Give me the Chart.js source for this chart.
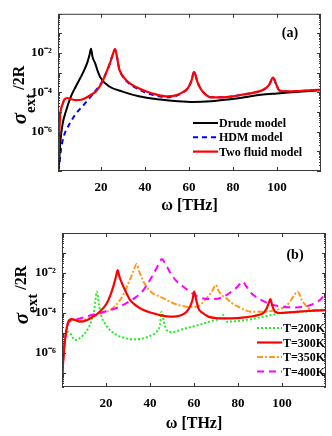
<!DOCTYPE html>
<html>
<head>
<meta charset="utf-8">
<script src="https://cdn.jsdelivr.net/npm/chart.js@4.4.1/dist/chart.umd.min.js"></script>
<style>
  html, body { margin: 0; padding: 0; background: #fff; }
  canvas { display: block; }
</style>
</head>
<body>
<canvas id="chartA" width="332" height="218"></canvas>
<canvas id="chartB" width="332" height="218"></canvas>
<script>
// axis ticks
const xTicks = [20, 40, 60, 80, 100];
const yTickVals = [1e-6, 1e-4, 1e-2];
const yTickLabels = ['10⁻⁶', '10⁻⁴', '10⁻²'];

// panel (a)
const drudeX = [0.5, 1, 1.5, 2.6, 4.1, 6.4, 8.6, 11.7, 13.9, 14.8, 15.5, 16.2, 17.4, 18.5, 20, 23.8, 29.8, 37.3, 47, 55, 62, 70, 77.6, 85, 92.7, 100, 110, 120];
const drudeY = [1e-8, 2.5e-8, 2.5e-7, 2.5e-6, 1.1e-5, 6.3e-5, 2.0e-4, 9.3e-4, 3.5e-3, 7.9e-3, 1.66e-2, 6.3e-3, 3.0e-3, 1.26e-3, 5.2e-4, 2.0e-4, 1.1e-4, 6.3e-5, 4.3e-5, 3.5e-5, 3.2e-5, 3.5e-5, 4.3e-5, 5.6e-5, 7.6e-5, 8.9e-5, 1.07e-4, 1.32e-4];

const hdmX = [0.5, 1, 1.5, 2.6, 3.5, 4.8, 6, 7.9, 10, 11.7, 14, 16.2, 18, 20, 22, 24, 25.3, 26.4, 27.3, 28.3, 29.8, 31.4, 34, 37.4, 41, 45, 50, 54, 57, 59.4, 61, 62.4, 63.8, 65.5, 67.5, 70, 75, 80, 85, 90, 94, 96.5, 98.2, 99.7, 101, 105, 110, 115, 120];
const hdmY = [1e-8, 1.6e-8, 6.3e-8, 3.5e-7, 7.9e-7, 1.6e-6, 2.8e-6, 6.3e-6, 1.26e-5, 2.0e-5, 4.0e-5, 7.9e-5, 1.4e-4, 2.8e-4, 7.9e-4, 2.8e-3, 7.9e-3, 1.58e-2, 6.3e-3, 1.58e-3, 6.8e-4, 4.0e-4, 2.2e-4, 1.4e-4, 9.3e-5, 6.8e-5, 5.6e-5, 6.6e-5, 9.5e-5, 1.58e-4, 3.5e-4, 1.12e-3, 3.5e-4, 1.4e-4, 7.9e-5, 5.6e-5, 5.6e-5, 6.3e-5, 7.9e-5, 1.0e-4, 1.4e-4, 2.5e-4, 5.6e-4, 2.5e-4, 1.26e-4, 1.12e-4, 1.17e-4, 1.26e-4, 1.4e-4];

const twoFluidX = [0.5, 0.8, 1.4, 2.6, 3.5, 4.8, 6.5, 8.6, 11, 13, 15.5, 17.7, 20, 22, 24, 25.3, 26.4, 27.3, 28.3, 29.8, 31.4, 34, 37.4, 41, 45, 50, 54, 57, 59.4, 61, 62.4, 63.8, 65.5, 67.5, 70, 75, 80, 85, 90, 94, 96.5, 98.2, 99.7, 101, 105, 110, 115, 120];
const twoFluidY = [3.2e-8, 1.1e-7, 5.0e-6, 2.5e-5, 4.5e-5, 5.2e-5, 4.5e-5, 4.0e-5, 4.2e-5, 5.2e-5, 7.6e-5, 1.12e-4, 2.5e-4, 7.9e-4, 2.8e-3, 7.9e-3, 1.58e-2, 6.3e-3, 1.58e-3, 7.1e-4, 4.3e-4, 2.5e-4, 1.58e-4, 1.07e-4, 7.9e-5, 6.3e-5, 7.1e-5, 1.0e-4, 1.58e-4, 3.5e-4, 1.12e-3, 3.5e-4, 1.4e-4, 7.9e-5, 5.6e-5, 5.6e-5, 6.3e-5, 7.9e-5, 1.0e-4, 1.4e-4, 2.5e-4, 5.6e-4, 2.5e-4, 1.26e-4, 1.12e-4, 1.17e-4, 1.26e-4, 1.4e-4];

// panel (b)
const t200X = [0, 0.3, 0.9, 2.1, 3.6, 5.9, 7.5, 9.7, 12, 13.5, 14.8, 15.8, 16.8, 18, 20, 21.8, 25, 29.4, 33, 37, 40, 43, 44.5, 45.3, 46.2, 47.6, 50, 55, 62, 68, 71.8, 73.3, 74.9, 80, 87.7, 95, 99.9, 105, 110, 115, 120];
const t200Y = [2e-8, 1.6e-7, 2.1e-6, 1.17e-5, 1.0e-5, 4.5e-6, 5.0e-6, 7.9e-6, 1.8e-5, 4.5e-5, 1.8e-4, 1.17e-3, 2.5e-4, 6.6e-5, 2.5e-5, 1.4e-5, 7.9e-6, 5.4e-6, 4.8e-6, 5.4e-6, 7.1e-6, 1.17e-5, 2.5e-5, 1.17e-4, 4.0e-5, 1.4e-5, 1.12e-5, 1.58e-5, 2.5e-5, 4.0e-5, 5.4e-5, 7.9e-5, 3.7e-5, 4.0e-5, 5.4e-5, 7.9e-5, 1.0e-4, 1.07e-4, 1.17e-4, 1.26e-4, 1.4e-4];

const t300X = [0, 0.5, 1.4, 2.9, 4.4, 6, 8.2, 11, 14.2, 17, 20.3, 22, 23.3, 24.5, 25.3, 26, 27.9, 29.5, 30.9, 34, 37, 41, 44.5, 49, 52, 54.4, 56.5, 58.2, 59.3, 60.1, 61, 62, 64, 66.5, 70, 77, 83, 89.2, 91.5, 93, 94, 94.7, 95.5, 96.8, 99, 103, 107.4, 112, 120];
const t300Y = [3.2e-8, 3.2e-7, 4.5e-6, 3.7e-5, 5.0e-5, 4.5e-5, 3.7e-5, 4.2e-5, 6.6e-5, 1.12e-4, 3.0e-4, 7.9e-4, 2.1e-3, 6.3e-3, 1.41e-2, 7.1e-3, 2.1e-3, 8.9e-4, 4.5e-4, 2.2e-4, 1.4e-4, 1.0e-4, 7.9e-5, 6.6e-5, 6.8e-5, 7.9e-5, 1.12e-4, 2.1e-4, 4.5e-4, 1.17e-3, 4.5e-4, 1.7e-4, 1.0e-4, 6.6e-5, 5.6e-5, 5.4e-5, 6.0e-5, 7.9e-5, 1.0e-4, 1.7e-4, 3.2e-4, 5.0e-4, 2.5e-4, 1.17e-4, 1.0e-4, 1.07e-4, 1.17e-4, 1.26e-4, 1.4e-4];

const t350X = [0, 0.5, 1.4, 2.9, 5.1, 8.2, 11, 14.2, 18, 21.8, 24, 26.4, 28, 29.4, 31, 32.5, 33.9, 35, 36.5, 38.5, 41, 44.5, 49, 53, 56, 59, 62, 65, 67, 68.5, 69.9, 71, 72.5, 74.8, 77, 80, 86, 92.3, 97, 101.4, 103.5, 105.1, 107.1, 109, 112, 115, 120];
const t350Y = [2.5e-8, 4.0e-7, 5.0e-6, 3.5e-5, 4.5e-5, 4.2e-5, 5.0e-5, 6.6e-5, 1.0e-4, 1.4e-4, 2.2e-4, 4.5e-4, 8.9e-4, 2.0e-3, 5.0e-3, 1.26e-2, 2.8e-2, 1.26e-2, 5.0e-3, 2.0e-3, 1.0e-3, 6.6e-4, 3.7e-4, 2.5e-4, 2.1e-4, 2.0e-4, 2.2e-4, 4.5e-4, 7.9e-4, 1.41e-3, 2.5e-3, 1.41e-3, 7.9e-4, 5.4e-4, 3.2e-4, 2.1e-4, 1.17e-4, 1.17e-4, 1.4e-4, 2.1e-4, 3.5e-4, 6.6e-4, 1.17e-3, 4.5e-4, 1.7e-4, 1.4e-4, 1.4e-4];

const t400X = [0, 0.5, 1.4, 2.9, 5, 8.2, 12, 17.3, 22, 26.4, 30, 33.9, 37, 40, 42.5, 44.5, 45.3, 46.8, 49, 52, 55.9, 59, 61.8, 65, 69.5, 73, 77, 80, 82, 84, 86, 89, 92, 96, 99.9, 105, 110.5, 114, 118, 120];
const t400Y = [2.5e-8, 4.0e-7, 5.0e-6, 3.2e-5, 4.5e-5, 5.4e-5, 7.1e-5, 1.0e-4, 1.4e-4, 2.1e-4, 3.5e-4, 6.6e-4, 1.41e-3, 4.5e-3, 1.41e-2, 3.5e-2, 5.0e-2, 3.2e-2, 1.12e-2, 4.0e-3, 1.78e-3, 1.0e-3, 6.6e-4, 5.2e-4, 5.0e-4, 6.3e-4, 1.17e-3, 2.2e-3, 3.7e-3, 2.0e-3, 1.0e-3, 5.6e-4, 3.7e-4, 2.5e-4, 2.1e-4, 1.9e-4, 2.1e-4, 2.8e-4, 5.4e-4, 1.17e-3];

const serif = '"Liberation Serif", "Times New Roman", serif';

function pts(xs, ys) {
    return xs.map((x, i) => ({ x: x, y: ys[i] }));
}

// box round the plot, inward ticks (MATLAB style), labels, legend
const framePlugin = {
    id: 'frame',
    afterDatasetsDraw(chart, args, opts) {
        const ctx = chart.ctx;
        const a = chart.chartArea;
        const xs = chart.scales.x, ys = chart.scales.y;
        ctx.save();
        ctx.strokeStyle = '#3a3a3a';
        ctx.lineWidth = 1;
        ctx.strokeRect(a.left + 0.5, a.top + 0.5, a.right - a.left - 1, a.bottom - a.top - 1);
        ctx.beginPath();
        xTicks.forEach(v => {
            const px = Math.round(xs.getPixelForValue(v)) + 0.5;
            ctx.moveTo(px, a.bottom); ctx.lineTo(px, a.bottom - 4);
            ctx.moveTo(px, a.top); ctx.lineTo(px, a.top + 4);
        });
        for (let e = -8; e <= 0; e++) {
            for (let k = 1; k <= 9; k++) {
                const v = k * Math.pow(10, e);
                if (v < ys.min || v > ys.max) continue;
                const py = Math.round(ys.getPixelForValue(v)) + 0.5;
                const len = k === 1 ? 4 : 2;
                ctx.moveTo(a.left, py); ctx.lineTo(a.left + len, py);
                ctx.moveTo(a.right, py); ctx.lineTo(a.right - len, py);
            }
        }
        ctx.stroke();
        ctx.restore();
    },
    afterDraw(chart, args, opts) {
        const ctx = chart.ctx;
        ctx.save();
        // y title: sigma_ext /2R
        const parts = [
            { t: 'σ', f: 'italic bold 21px ' + serif, dy: 0 },
            { t: 'ext', f: 'bold 15px ' + serif, dy: 9 },
            { t: ' /2R', f: 'bold 16px ' + serif, dy: -2 }
        ];
        let total = 0;
        parts.forEach(p => { ctx.font = p.f; p.w = ctx.measureText(p.t).width; total += p.w; });
        ctx.translate(opts.titleX, opts.titleY);
        ctx.rotate(-Math.PI / 2);
        ctx.fillStyle = '#000';
        ctx.textBaseline = 'alphabetic';
        ctx.textAlign = 'left';
        let cx = -total / 2;
        parts.forEach(p => { ctx.font = p.f; ctx.fillText(p.t, cx, p.dy); cx += p.w; });
        ctx.restore();

        ctx.save();
        ctx.fillStyle = '#000';
        ctx.font = 'bold 14px ' + serif;
        ctx.textAlign = 'center';
        ctx.textBaseline = 'middle';
        ctx.fillText(opts.tag, opts.tagX, opts.tagY);

        // legend
        ctx.font = 'bold 12px ' + serif;
        ctx.textAlign = 'left';
        chart.data.datasets.forEach((ds, i) => {
            const y = opts.legY + i * opts.legStep;
            ctx.strokeStyle = ds.borderColor;
            ctx.lineWidth = ds.borderWidth;
            ctx.setLineDash(ds.borderDash || []);
            ctx.beginPath();
            ctx.moveTo(opts.legX, y);
            ctx.lineTo(opts.legX + 25, y);
            ctx.stroke();
            ctx.fillText(ds.label, opts.legX + 26, y + 1);
        });
        ctx.restore();
    }
};

function makeChart(id, datasets, o) {
    return new Chart(document.getElementById(id), {
        type: 'line',
        data: { datasets: datasets },
        options: {
            responsive: false,
            animation: false,
            layout: { padding: { left: 0, right: o.padRight, top: o.padTop, bottom: 0 } },
            elements: { point: { radius: 0 }, line: { cubicInterpolationMode: 'monotone' } },
            plugins: {
                legend: { display: false },
                tooltip: { enabled: false },
                frame: o.frame
            },
            scales: {
                x: {
                    type: 'linear',
                    min: o.xMin,
                    max: 120,
                    grid: { display: false, drawTicks: false },
                    border: { display: false },
                    afterBuildTicks: s => { s.ticks = xTicks.map(v => ({ value: v })); },
                    afterFit: s => { s.height = o.xHeight; },
                    ticks: {
                        color: '#000',
                        padding: 9,
                        maxRotation: 0,
                        font: { family: serif, size: 13, weight: 'bold' }
                    },
                    title: {
                        display: true,
                        text: 'ω [THz]',
                        color: '#000',
                        padding: { top: 0, bottom: 3 },
                        font: { family: serif, size: 16, weight: 'bold' }
                    }
                },
                y: {
                    type: 'logarithmic',
                    min: o.yMin,
                    max: 1,
                    grid: { display: false, drawTicks: false },
                    border: { display: false },
                    afterBuildTicks: s => { s.ticks = yTickVals.map(v => ({ value: v })); },
                    afterFit: s => { s.width = o.yWidth; },
                    ticks: {
                        color: '#000',
                        padding: 6,
                        font: { family: serif, size: 13, weight: 'bold' },
                        callback: function(value) {
                            const i = yTickVals.findIndex(v => Math.abs(v - value) / v < 1e-6);
                            return i >= 0 ? yTickLabels[i] : '';
                        }
                    }
                }
            }
        },
        plugins: [framePlugin]
    });
}

// lower "order" is drawn on top: keep the red curves above the rest
makeChart('chartA', [
    { label: 'Drude model', data: pts(drudeX, drudeY), borderColor: '#000000', borderWidth: 2, order: 1 },
    { label: 'HDM model', data: pts(hdmX, hdmY), borderColor: '#0000ff', borderWidth: 2, borderDash: [5, 4], order: 2 },
    { label: 'Two fluid model', data: pts(twoFluidX, twoFluidY), borderColor: '#ff0000', borderWidth: 2.2, order: 0 }
], {
    xMin: 0.5, yMin: 1e-8, padRight: 11, padTop: 11, xHeight: 47, yWidth: 58,
    frame: { titleX: 26, titleY: 95, tag: '(a)', tagX: 290, tagY: 33, legX: 193, legY: 123, legStep: 14.3 }
});

makeChart('chartB', [
    { label: 'T=200K', data: pts(t200X, t200Y), borderColor: '#22ee22', borderWidth: 2, borderDash: [2, 2], order: 3 },
    { label: 'T=300K', data: pts(t300X, t300Y), borderColor: '#ff0000', borderWidth: 2.2, order: 0 },
    { label: 'T=350K', data: pts(t350X, t350Y), borderColor: '#ff9a1a', borderWidth: 2, borderDash: [6, 2, 2, 2], order: 2 },
    { label: 'T=400K', data: pts(t400X, t400Y), borderColor: '#ff00ff', borderWidth: 2, borderDash: [7, 5], order: 1 }
], {
    xMin: 0, yMin: 2e-8, padRight: 6, padTop: 15, xHeight: 49, yWidth: 62,
    frame: { titleX: 28, titleY: 77, tag: '(b)', tagX: 295, tagY: 37, legX: 257, legY: 110, legStep: 14.5 }
});
</script>
</body>
</html>
